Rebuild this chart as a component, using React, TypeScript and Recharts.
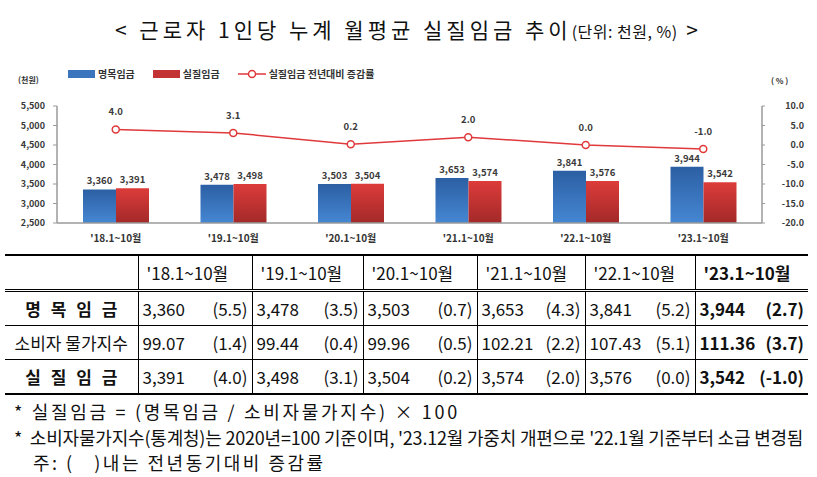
import {
  ComposedChart, Bar, Line, XAxis, YAxis, LabelList, Legend,
} from "recharts";

// ── Data ─────────────────────────────────────────────────────────────

const PERIODS = ["'18.1~10월", "'19.1~10월", "'20.1~10월", "'21.1~10월", "'22.1~10월", "'23.1~10월"];
const NOMINAL = [3360, 3478, 3503, 3653, 3841, 3944];
const REAL = [3391, 3498, 3504, 3574, 3576, 3542];
const REAL_GROWTH = [4.0, 3.1, 0.2, 2.0, 0.0, -1.0];
const NOMINAL_GROWTH = [5.5, 3.5, 0.7, 4.3, 5.2, 2.7];
const CPI = [99.07, 99.44, 99.96, 102.21, 107.43, 111.36];
const CPI_GROWTH = [1.4, 0.4, 0.5, 2.2, 5.1, 3.7];

const LEFT_TICKS = [2500, 3000, 3500, 4000, 4500, 5000, 5500];
const RIGHT_TICKS = [-20, -15, -10, -5, 0, 5, 10];

const data = PERIODS.map((p, i) => ({
  period: p,
  nominal: NOMINAL[i],
  real: REAL[i],
  growth: REAL_GROWTH[i],
}));

const KFONT = "'Noto Sans CJK KR', 'Noto Sans', sans-serif";
const TICK_COLOR = "#3a3a3a";

const fmtThousands = (v: number) => v.toLocaleString("en-US");

// right axis labels are right-aligned in the original
function RightTick(props: any) {
  const { x, y, payload } = props;
  return (
    <text
      x={x + 37}
      y={y}
      dy={3}
      textAnchor="end"
      fontSize={9}
      fontWeight={700}
      fill={TICK_COLOR}
      fontFamily={KFONT}
    >
      {Number(payload.value).toFixed(1)}
    </text>
  );
}

// ── Legend ───────────────────────────────────────────────────────────

function ChartLegend() {
  const txt = { fontSize: 10, fontWeight: 700, color: "#333", fontFamily: KFONT };
  return (
    <div style={{ display: "flex", alignItems: "center", gap: 0, lineHeight: "12px" }}>
      <span style={{ width: 27, height: 8, background: "#3a74bd", display: "inline-block", marginRight: 3 }} />
      <span style={{ ...txt, marginRight: 18 }}>명목임금</span>
      <span style={{ width: 27, height: 8, background: "#c33333", display: "inline-block", marginRight: 3 }} />
      <span style={{ ...txt, marginRight: 18 }}>실질임금</span>
      <svg width={28} height={10} style={{ marginRight: 3 }}>
        <line x1={0} y1={5} x2={28} y2={5} stroke="#e0393b" strokeWidth={1.5} />
        <circle cx={14} cy={5} r={3.5} fill="#fff" stroke="#e0393b" strokeWidth={1.5} />
      </svg>
      <span style={txt}>실질임금 전년대비 증감률</span>
    </div>
  );
}

// ── Table ────────────────────────────────────────────────────────────

const ROWS = [
  { label: "명 목 임 금", bold: true, values: NOMINAL.map(fmtThousands), growth: NOMINAL_GROWTH },
  { label: "소비자 물가지수", bold: false, values: CPI.map((v) => v.toFixed(2)), growth: CPI_GROWTH },
  { label: "실 질 임 금", bold: true, values: REAL.map(fmtThousands), growth: REAL_GROWTH },
];

const COL_WIDTHS = [133, 114, 111, 114, 108, 110, 113];

function WageTable() {
  const cellBase: React.CSSProperties = {
    fontFamily: KFONT,
    fontSize: 17,
    color: "#111",
    padding: "0 4px",
    whiteSpace: "nowrap",
  };
  return (
    <table
      style={{
        position: "absolute",
        left: 5,
        top: 254,
        width: 803,
        borderCollapse: "collapse",
        tableLayout: "fixed",
      }}
    >
      <colgroup>
        {COL_WIDTHS.map((w, i) => <col key={i} style={{ width: w }} />)}
      </colgroup>
      <thead>
        <tr style={{ height: 35 }}>
          <th style={{ borderTop: "2px solid #000", borderBottom: "3px double #000" }} />
          {PERIODS.map((p, i) => (
            <th
              key={p}
              style={{
                ...cellBase,
                fontWeight: i === PERIODS.length - 1 ? 700 : 400,
                textAlign: "left",
                paddingLeft: 8,
                borderTop: "2px solid #000",
                borderBottom: "3px double #000",
                borderLeft: "1px solid #000",
              }}
            >
              {p}
            </th>
          ))}
        </tr>
      </thead>
      <tbody>
        {ROWS.map((r, ri) => (
          <tr key={r.label} style={{ height: ri === 1 ? 34 : 35 }}>
            <td
              style={{
                ...cellBase,
                fontWeight: r.bold ? 700 : 400,
                textAlign: "center",
                wordSpacing: r.bold ? 6 : 0,
                borderBottom: ri === ROWS.length - 1 ? "2px solid #000" : "1px solid #000",
              }}
            >
              {r.label}
            </td>
            {r.values.map((v, ci) => {
              const last = ci === r.values.length - 1;
              return (
                <td
                  key={ci}
                  style={{
                    ...cellBase,
                    fontWeight: last ? 700 : 400,
                    borderLeft: "1px solid #000",
                    borderBottom: ri === ROWS.length - 1 ? "2px solid #000" : "1px solid #000",
                  }}
                >
                  <div style={{ display: "flex", justifyContent: "space-between" }}>
                    <span>{v}</span>
                    <span>({r.growth[ci].toFixed(1)})</span>
                  </div>
                </td>
              );
            })}
          </tr>
        ))}
      </tbody>
    </table>
  );
}

// ── App ──────────────────────────────────────────────────────────────

export default function App() {
  const note: React.CSSProperties = {
    position: "absolute",
    fontSize: 18,
    lineHeight: "24px",
    color: "#111",
    whiteSpace: "nowrap",
  };
  return (
    <div
      style={{
        position: "absolute",
        left: 0,
        top: 0,
        width: 817,
        height: 477,
        background: "#fff",
        overflow: "hidden",
        fontFamily: KFONT,
      }}
    >
      {/* Title */}
      <div
        style={{
          position: "absolute",
          top: 14,
          left: 0,
          width: 817,
          textAlign: "center",
          fontSize: 21,
          letterSpacing: 4,
          color: "#111",
          whiteSpace: "nowrap",
        }}
      >
        &lt; 근로자 1인당 누계 월평균 실질임금 추이
        <span style={{ fontSize: 16, letterSpacing: 0.5 }}>(단위: 천원, %)</span> &gt;
      </div>

      {/* Axis units */}
      <div style={{ position: "absolute", left: 18, top: 74, fontSize: 8, fontWeight: 700, color: "#333" }}>(천원)</div>
      <div style={{ position: "absolute", left: 771, top: 75, fontSize: 8, fontWeight: 700, color: "#333" }}>( % )</div>

      <div style={{ position: "absolute", left: 0, top: 0 }}>
        <ComposedChart
          width={817}
          height={250}
          data={data}
          margin={{ top: 94, right: 0, bottom: 7, left: 0 }}
          barGap={0}
          barSize={33}
        >
          <defs>
            <linearGradient id="gBlue" x1="0" y1="0" x2="0" y2="1">
              <stop offset="0%" stopColor="#2c5fa3" />
              <stop offset="100%" stopColor="#4587d3" />
            </linearGradient>
            <linearGradient id="gRed" x1="0" y1="0" x2="0" y2="1">
              <stop offset="0%" stopColor="#dc3c3a" />
              <stop offset="100%" stopColor="#a32929" />
            </linearGradient>
          </defs>
          <XAxis
            dataKey="period"
            height={20}
            tickLine={false}
            axisLine={{ stroke: "#9a9a9a", strokeWidth: 1.5 }}
            tick={{ fontSize: 10, fontWeight: 700, fill: "#333", fontFamily: KFONT }}
            tickMargin={6}
            interval={0}
          />
          <YAxis
            yAxisId="left"
            width={57}
            domain={[2500, 5500]}
            ticks={LEFT_TICKS}
            interval={0}
            tickFormatter={fmtThousands}
            axisLine={{ stroke: "#9a9a9a", strokeWidth: 1.5 }}
            tickLine={{ stroke: "#9a9a9a" }}
            tickSize={4}
            tickMargin={8}
            tick={{ fontSize: 9, fontWeight: 700, fill: TICK_COLOR, fontFamily: KFONT }}
          />
          <YAxis
            yAxisId="right"
            orientation="right"
            width={55}
            domain={[-20, 10]}
            ticks={RIGHT_TICKS}
            interval={0}
            axisLine={{ stroke: "#9a9a9a", strokeWidth: 1.5 }}
            tickLine={{ stroke: "#9a9a9a" }}
            tickSize={3}
            tickMargin={2}
            tick={RightTick as any}
          />
          <Legend
            verticalAlign="top"
            content={() => <ChartLegend />}
            wrapperStyle={{ position: "absolute", top: 68, left: 68, width: 400 }}
          />
          <Bar yAxisId="left" dataKey="nominal" fill="url(#gBlue)" isAnimationActive={false}>
            <LabelList
              dataKey="nominal"
              position="top"
              offset={5}
              formatter={(v: any) => fmtThousands(Number(v))}
              style={{ fontSize: 9.5, fontWeight: 700, fill: TICK_COLOR, fontFamily: KFONT }}
            />
          </Bar>
          <Bar yAxisId="left" dataKey="real" fill="url(#gRed)" isAnimationActive={false}>
            <LabelList
              dataKey="real"
              position="top"
              offset={5}
              formatter={(v: any) => fmtThousands(Number(v))}
              style={{ fontSize: 9.5, fontWeight: 700, fill: TICK_COLOR, fontFamily: KFONT }}
            />
          </Bar>
          <Line
            yAxisId="right"
            dataKey="growth"
            stroke="#e0393b"
            strokeWidth={1.5}
            dot={{ r: 3.5, fill: "#fff", stroke: "#e0393b", strokeWidth: 1.5 }}
            isAnimationActive={false}
          >
            <LabelList
              dataKey="growth"
              position="top"
              offset={14}
              formatter={(v: any) => Number(v).toFixed(1)}
              style={{ fontSize: 9.5, fontWeight: 700, fill: TICK_COLOR, fontFamily: KFONT }}
            />
          </Line>
        </ComposedChart>
      </div>

      <WageTable />

      {/* Footnotes */}
      <div style={{ ...note, left: 14, top: 399, letterSpacing: 2.7 }}>
        * 실질임금 = (명목임금 / 소비자물가지수) × 100
      </div>
      <div style={{ ...note, left: 14, top: 425, letterSpacing: -0.2 }}>
        *&nbsp;&nbsp;소비자물가지수(통계청)는 2020년=100 기준이며, '23.12월 가중치 개편으로 '22.1월 기준부터 소급 변경됨
      </div>
      <div style={{ ...note, left: 33, top: 450, letterSpacing: 2.5 }}>
        주: (&nbsp;&nbsp;&nbsp;)내는 전년동기대비 증감률
      </div>
    </div>
  );
}
